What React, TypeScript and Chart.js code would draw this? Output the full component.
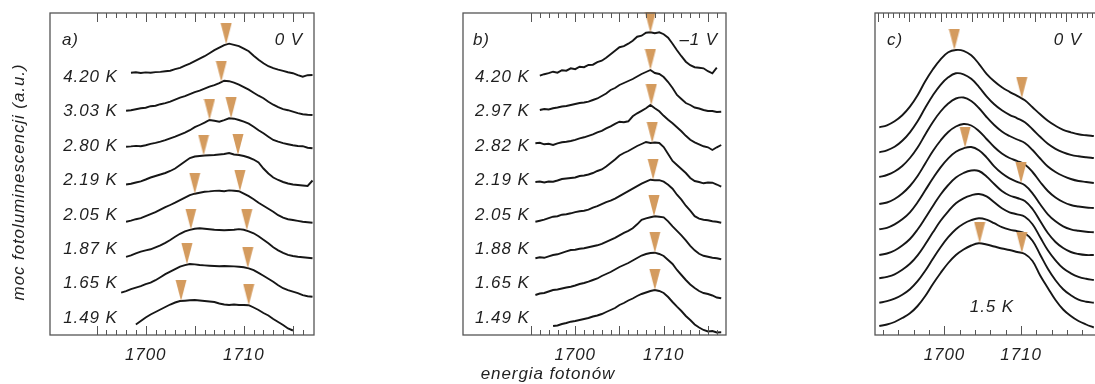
import React, { useEffect, useRef } from "react";
import { Chart, registerables } from "chart.js";

Chart.register(...registerables);

// ---------------- DATA ----------------
// photon energy grids (meV)
const energyA = [1697.5, 1698, 1698.5, 1699, 1699.5, 1700, 1700.5, 1701, 1701.5, 1702, 1702.5, 1703, 1703.5, 1704, 1704.5, 1705, 1705.5, 1706, 1706.5, 1707, 1707.5, 1708, 1708.5, 1709, 1709.5, 1710, 1710.5, 1711, 1711.5, 1712, 1712.5, 1713, 1713.5, 1714, 1714.5, 1715, 1715.5, 1716, 1716.5, 1717];
const energyB = [1695.5, 1696, 1696.5, 1697, 1697.5, 1698, 1698.5, 1699, 1699.5, 1700, 1700.5, 1701, 1701.5, 1702, 1702.5, 1703, 1703.5, 1704, 1704.5, 1705, 1705.5, 1706, 1706.5, 1707, 1707.5, 1708, 1708.5, 1709, 1709.5, 1710, 1710.5, 1711, 1711.5, 1712, 1712.5, 1713, 1713.5, 1714, 1714.5, 1715, 1715.5, 1716, 1716.5];
const energyC = [1691.5, 1692.5, 1693.5, 1694.5, 1695.5, 1696.5, 1697.5, 1698.5, 1699.5, 1700.5, 1701.5, 1702.5, 1703.5, 1704.5, 1705.5, 1706.5, 1707.5, 1708.5, 1709.5, 1710.5, 1711.5, 1712.5, 1713.5, 1714.5, 1715.5, 1716.5, 1717.5, 1718.5, 1719.5];

// panel a) 0 V — temperatures and spectra (a.u., relative to each trace's offset)
const tempsA = ["4.20 K", "3.03 K", "2.80 K", "2.19 K", "2.05 K", "1.87 K", "1.65 K", "1.49 K"];
const offsetsA = [262.3, 224.3, 188.3, 150.5, 113.3, 77.7, 42.3, 10];
const a420 = [null, null, 0, 0.5, -0.3, 0.3, 0, 0.6, 0.8, 1.5, 2, 3.5, 4.8, 7, 9, 11.5, 14, 16.5, 19.5, 22.5, 25, 27.5, 29, 27.8, 26.5, 24, 21.5, 17, 13, 9.5, 6.5, 4.5, 3, 1.8, 0.5, -0.5, -2.5, -4, -2.5, -2.3];
const a303 = [null, 0, 0.5, 1.5, 2.5, 3, 4.5, 5, 6.5, 7.5, 9, 11, 13, 14.5, 16.5, 18.5, 20, 22, 24, 25.5, 27.5, 30, 29.5, 28, 26, 23.5, 21, 18, 15, 12.5, 9, 6, 3.5, 1.5, 0.5, -1, -2.5, -3.5, -4, -4.3];
const a280 = [null, 0, 0.3, 0.8, 0.5, 1.5, 2.8, 3.8, 5, 6.5, 8.4, 10, 12, 14, 16.5, 19.5, 21.7, 24, 26.7, 26, 25, 26.5, 28.4, 28, 26.7, 25, 23, 20, 16.5, 13.4, 10, 6.7, 5, 3.5, 2.5, 1.5, 0.7, 0.5, -1, -1.6];
const a219 = [null, 0, 0.8, 2, 3.2, 5, 7, 8.5, 10, 11.5, 13.5, 16, 19.5, 23, 26.5, 28, 28.5, 29, 29.3, 29.5, 30, 30.5, 31.5, 30, 29.5, 28.5, 27, 25, 22, 16, 11, 7, 4.5, 2.5, 1, 0, -0.5, -1, -1.5, 4];
const a205 = [null, 0, 1, 2.5, 3.5, 5.5, 7.5, 9.5, 12, 14.5, 16.7, 19, 21.5, 24, 26.5, 28, 29, 30, 30.3, 30.8, 31, 30.5, 31.3, 31, 30.5, 28, 25.5, 22.5, 19, 16, 13, 10, 6.5, 4, 2.5, 1.7, 0.8, 0, -0.5, -1];
const a187 = [null, 0.5, 2, 4, 5.6, 7, 8, 10, 12, 14.5, 17.3, 20.5, 23.5, 26, 27.5, 28.5, 29, 28.5, 28, 27.5, 27.3, 27, 27.3, 27.5, 28.2, 27.5, 26, 24, 21, 17.5, 14, 10, 7, 4.5, 2.5, 1.3, 0.5, 0, -0.5, -1];
const a165 = [0, 1.5, 3.5, 5, 6.5, 8.5, 10, 12.5, 15.5, 18.5, 21, 23.5, 26, 27.5, 28.7, 28.3, 27.7, 27.3, 27, 26.7, 26.5, 26.7, 26.5, 26.3, 26, 25.5, 24.4, 22.5, 19.8, 17, 14, 11, 7.5, 4.5, 2.5, 1, -0.5, -2.5, -3.5, -4];
const a149 = [null, null, null, 0.5, 4, 7.5, 10.5, 13, 15.5, 18, 20.5, 22.5, 24, 24.3, 24.7, 25, 24.5, 24, 23.5, 23, 21.5, 20.5, 20, 20.5, 20, 20, 19.8, 17.5, 15, 12, 9.5, 6, 3, 0, -3.5, -5.5, null, null, null, null];
const spectraA = [a420, a303, a280, a219, a205, a187, a165, a149];
const markTraceA = [0, 1, 2, 2, 3, 3, 4, 4, 5, 5, 6, 6, 7, 7];
const markEnergyA = [1708.2, 1707.7, 1706.5, 1708.7, 1705.9, 1709.4, 1705.0, 1709.6, 1704.6, 1710.3, 1704.2, 1710.4, 1703.6, 1710.5];
const markHeightA = [28.5, 29, 26.7, 28.4, 29, 29.5, 28, 30.5, 27.8, 27, 28.5, 24.4, 24.2, 19.8];

// panel b) -1 V
const tempsB = ["4.20 K", "2.97 K", "2.82 K", "2.19 K", "2.05 K", "1.88 K", "1.65 K", "1.49 K"];
const offsetsB = [259.3, 225, 191.7, 153, 113.3, 76.7, 40, 9];
const b420 = [null, 0, 1.5, 2.5, 4, 3, 5.5, 5, 7.4, 6.5, 9, 8.5, 10.7, 11, 13.5, 15, 18, 21.5, 25, 28.5, 29.5, 32, 35, 39, 40, 43, 43.5, 42.5, 43.4, 41.5, 38, 32, 25.5, 19.5, 14, 10.5, 8.5, 8, 7.4, 4.5, 2.4, 8, null];
const b297 = [null, 0, 1, 0.5, 1.7, 2.5, 3.5, 4, 5, 6, 7, 7.5, 8.3, 10, 11.5, 14, 16.5, 20, 22, 25, 27, 29, 31, 33.5, 36, 38, 40, 37, 36, 33, 28, 22, 15, 11, 7, 5, 2.5, 1.5, 0, -1, -1, -2, -1.7];
const b282 = [0, 0.5, -1, -0.5, -1.7, 0, 1, 1.5, 2.3, 3.5, 5, 6, 7.5, 9, 11, 12.5, 15, 17, 19.5, 21.6, 21, 22, 27, 30, 32.5, 35, 38.3, 35, 32, 27.5, 23.5, 20, 16, 12, 7.5, 3.5, 1, -1, -3, -4, -6.7, -4, -1.7];
const b219 = [0, 0.5, -0.5, 0.5, 0.3, 1.5, 3, 3.5, 4, 4.5, 6, 6.5, 7.5, 9, 11, 12.5, 15.5, 19, 22.5, 26.5, 29, 31, 33.5, 36, 38, 40, 39, 39.5, 39, 35, 28, 21, 17, 13, 9, 4, 1, 0, -1.3, -0.5, -0.7, -2.5, -4.7];
const b205 = [0, 1, 2, 3.5, 5, 5.5, 7, 7.5, 8.4, 9.5, 10.5, 11, 12, 14, 15.5, 17.5, 19.5, 21, 23, 25.5, 28, 30.5, 33, 35.5, 38, 40, 42, 41.5, 41.5, 40, 37, 33, 27, 22, 16, 11, 5.5, 3, 2, 1.5, 0.5, 0, -1];
const b188 = [0, 1, 0.5, 2, 3.3, 4, 5.5, 7, 8.3, 8.5, 9.5, 10, 11, 12, 13, 14.5, 16.5, 18.5, 20.5, 23, 25.5, 27.5, 30, 34, 38.5, 40, 41, 42, 41.6, 41, 37, 32, 27.5, 23, 18, 12.5, 8, 4.5, 2.5, 1.5, 0.5, 0, -1];
const b165 = [0, 1.5, 2, 3.5, 5, 5.5, 6.5, 7.5, 8.3, 9.5, 11, 12, 13.3, 15, 16.5, 19, 21, 23, 25.5, 28, 30, 32, 34.5, 37, 39.5, 41, 42, 42.3, 41, 39, 35, 31, 25, 20, 15, 10.5, 7, 4, 2, 1, -0.5, -2.5, -3.3];
const b149 = [null, null, null, null, 0, 0.5, 2, 3, 4.3, 5, 6, 7, 8, 9.5, 10.5, 12, 14, 16, 18, 21, 23, 25.5, 27.5, 30, 32, 33.5, 35, 36, 35, 33, 29, 24, 19.3, 15, 10, 6, 1.5, -1.5, -4, -5.5, -5, -6.5, -6.3];
const spectraB = [b420, b297, b282, b219, b205, b188, b165, b149];
const markTraceB = [0, 1, 2, 3, 4, 5, 6, 7];
const markEnergyB = [1708.5, 1708.5, 1708.6, 1708.7, 1708.8, 1708.9, 1709.0, 1709.0];
const markHeightB = [43, 40, 38, 39, 42, 42, 42.3, 36];

// panel c) 0 V, bottom trace 1.5 K
const offsetsC = [207.7, 182.7, 158, 131, 105.7, 80, 56.7, 32.3, 9];
const c1 = [0, 2, 6, 12, 20.6, 32, 46, 58, 68, 75, 77.3, 76.5, 72, 63.5, 53.5, 46, 40, 35.5, 31.5, 27, 20, 13, 6.5, 1.5, -2.5, -5, -7, -8, -8.7];
const c2 = [0, 2, 5.5, 11.5, 20, 31, 44.5, 57, 67.5, 75, 79, 78, 73.5, 65.5, 56, 48, 42, 37.5, 34, 30, 23, 15.5, 8.5, 3.5, 0, -2.5, -4, -5, -5.7];
const c3 = [0, 2, 5.5, 11, 19, 29.5, 42.5, 55, 65.5, 73.5, 78.5, 79.5, 76, 69, 60, 52, 45.5, 41, 37.5, 34, 27, 18.5, 10.5, 5, 1, -2, -4, -5, -6];
const c4 = [0, 1.5, 5, 10.5, 18, 28, 40.5, 53, 63.5, 72, 77.5, 80, 78.5, 73, 65, 57, 50.5, 46, 43, 39.5, 32, 22, 13, 6.5, 2, -1, -2.5, -3.5, -4];
const c5 = [0, 1.5, 5, 10, 17, 27, 39, 51, 62, 71, 77.5, 81, 82.3, 79, 72, 63, 56, 51, 47.5, 44, 36, 25, 15, 8, 3, 0, -1.5, -2.5, -3];
const c6 = [0, 1.5, 4.5, 9.5, 16, 25.5, 37, 49, 60.5, 70, 77.5, 82, 84.5, 84, 78.5, 71, 64, 59.5, 57, 54, 46, 34, 22, 13, 7, 3, 1, 0, 0];
const c7 = [0, 1.5, 4, 8.5, 14.5, 23, 34, 46, 57.5, 67, 75, 80, 83, 84.3, 82, 76, 70, 66, 64, 61.5, 54, 41, 28, 18, 10, 5, 1.5, -0.5, -1.7];
const c8 = [0, 1.5, 4, 8, 13.5, 21.5, 32, 44, 55.5, 65.5, 73.5, 79, 82.5, 84.4, 83, 79.5, 75.5, 73, 71.5, 69.5, 62, 48, 34, 22.5, 13.5, 7.5, 3, 1, 0];
const c9 = [0, 1.5, 4, 8, 12.7, 20, 30, 42, 53, 63, 71, 76.5, 80.5, 82.7, 81.5, 79.5, 77.5, 76, 74, 72, 65, 50.5, 38, 26, 16.5, 10, 5, 1.5, -1.5];
const spectraC = [c1, c2, c3, c4, c5, c6, c7, c8, c9];
const markTraceC = [0, 0, 4, 4, 8, 8];
const markEnergyC = [1701.3, 1710.1, 1702.7, 1710.0, 1704.6, 1710.1];
const markHeightC = [77.3, 29, 81.5, 46, 82.7, 73];

// tick labels
const tickValues = [1700, 1710];
const tickLabels = ["1700", "1710"];

const yTitle = "moc fotoluminescencji (a.u.)";
const xTitle = "energia fotonów";

// ---------------- RENDERING ----------------
const FONT = 'italic 17px "Liberation Sans", Arial, Helvetica, sans-serif';
const TEXT = "#1f1f1f";
const FRAME = "#555555";

function markerImage() {
  const c = document.createElement("canvas");
  c.width = 12;
  c.height = 42;
  const g = c.getContext("2d")!;
  g.fillStyle = "#d49b5e";
  g.beginPath();
  g.moveTo(0.5, 0);
  g.lineTo(11.5, 0);
  g.lineTo(6, 21);
  g.closePath();
  g.fill();
  return c;
}

type PanelCfg = {
  key: string;
  left: number;
  width: number;
  pad: { left: number; right: number; top: number; bottom: number };
  xMin: number;
  xMax: number;
  grid: number[];
  spectra: (number | null)[][];
  offsets: number[];
  markTrace: number[];
  markEnergy: number[];
  markHeight: number[];
  tension: number;
  temps?: string[];
  tempE?: number;
  tag: string;
  tagDx: number;
  volt: string;
  voltDx: number;
  ticks: "fine" | "coarse";
  extraText?: (ctx: CanvasRenderingContext2D, chart: any) => void;
};

function setText(ctx: CanvasRenderingContext2D) {
  ctx.font = FONT;
  ctx.fillStyle = TEXT;
  try {
    (ctx as any).letterSpacing = "0.9px";
  } catch (e) {}
}

function makeDecor(cfg: PanelCfg) {
  return {
    id: "decor_" + cfg.key,
    afterDraw(chart: any) {
      const ctx: CanvasRenderingContext2D = chart.ctx;
      const a = chart.chartArea;
      const xs = chart.scales.x;
      ctx.save();
      ctx.strokeStyle = FRAME;
      ctx.lineWidth = 1.3;
      ctx.strokeRect(a.left, a.top, a.right - a.left, a.bottom - a.top);

      ctx.lineWidth = 1;
      const tick = (v: number, len: number, top: boolean) => {
        const x = Math.round(xs.getPixelForValue(v)) + 0.5;
        if (x < a.left + 1 || x > a.right - 1) return;
        ctx.beginPath();
        if (top) {
          ctx.moveTo(x, a.top);
          ctx.lineTo(x, a.top + len);
        } else {
          ctx.moveTo(x, a.bottom);
          ctx.lineTo(x, a.bottom - len);
        }
        ctx.stroke();
      };
      if (cfg.ticks === "fine") {
        for (let v = 1695; v <= 1716; v++) {
          const major = v % 5 === 0;
          tick(v, major ? 9 : 5, false);
          tick(v, major ? 9 : 5, true);
        }
      } else {
        for (let v = 1692; v <= 1720; v += 2) tick(v, v % 10 === 0 ? 9 : 5, false);
        for (let i = 0; i < 45; i++) tick(1691.3 + i * 0.683, i % 6 === 0 ? 9 : 5, true);
      }

      setText(ctx);
      ctx.textBaseline = "alphabetic";
      ctx.textAlign = "center";
      tickValues.forEach((v, i) => {
        ctx.fillText(tickLabels[i], xs.getPixelForValue(v), a.bottom + 25);
      });
      ctx.textAlign = "left";
      ctx.fillText(cfg.tag, a.left + cfg.tagDx, a.top + 32);
      ctx.textAlign = "right";
      ctx.fillText(cfg.volt, a.right - cfg.voltDx, a.top + 32);
      if (cfg.temps && cfg.tempE !== undefined) {
        const xr = xs.getPixelForValue(cfg.tempE);
        cfg.temps.forEach((t, i) => {
          ctx.fillText(t, xr, a.top + 69 + i * 34.4);
        });
      }
      if (cfg.extraText) cfg.extraText(ctx, chart);
      ctx.restore();
    },
  };
}

function Panel({ cfg }: { cfg: PanelCfg }) {
  const ref = useRef<HTMLCanvasElement>(null);
  useEffect(() => {
    const img = markerImage();
    const curves = cfg.spectra.map((s, k) => ({
      data: cfg.grid
        .map((e, i) => (s[i] === null || s[i] === undefined ? null : { x: e, y: cfg.offsets[k] + (s[i] as number) }))
        .filter((p) => p !== null),
      borderColor: "#161616",
      borderWidth: 1.9,
      pointRadius: 0,
      tension: cfg.tension,
      fill: false,
      order: 1,
    }));
    const markers = {
      data: cfg.markEnergy.map((e, i) => ({ x: e, y: cfg.offsets[cfg.markTrace[i]] + cfg.markHeight[i] })),
      showLine: false,
      pointStyle: img,
      pointRadius: 6,
      clip: false,
      order: -1,
    };
    const chart = new Chart(ref.current!, {
      type: "line",
      data: { datasets: [markers as any, ...curves] },
      options: {
        responsive: false,
        animation: false,
        devicePixelRatio: 1,
        events: [],
        layout: { padding: cfg.pad },
        scales: {
          x: { type: "linear", min: cfg.xMin, max: cfg.xMax, display: false },
          y: { type: "linear", min: 0, max: 322, display: false },
        },
        plugins: { legend: { display: false }, tooltip: { enabled: false } },
      },
      plugins: [makeDecor(cfg)],
    });
    return () => chart.destroy();
  }, []);
  return (
    <canvas
      ref={ref}
      width={cfg.width}
      height={384}
      style={{ position: "absolute", left: cfg.left, top: 0, width: cfg.width, height: 384 }}
    />
  );
}

const panelA: PanelCfg = {
  key: "a",
  left: 0,
  width: 330,
  pad: { left: 50, right: 16, top: 13, bottom: 49 },
  xMin: 1690.25,
  xMax: 1717.15,
  grid: energyA,
  spectra: spectraA,
  offsets: offsetsA,
  markTrace: markTraceA,
  markEnergy: markEnergyA,
  markHeight: markHeightA,
  tension: 0,
  temps: tempsA,
  tempE: 1697.15,
  tag: "a)",
  tagDx: 12,
  volt: "0 V",
  voltDx: 11,
  ticks: "fine",
  extraText: (ctx) => {
    ctx.save();
    ctx.translate(24, 182);
    ctx.rotate(-Math.PI / 2);
    ctx.textAlign = "center";
    ctx.fillText(yTitle, 0, 0);
    ctx.restore();
  },
};

const panelB: PanelCfg = {
  key: "b",
  left: 440,
  width: 300,
  pad: { left: 23, right: 14, top: 13, bottom: 49 },
  xMin: 1687.32,
  xMax: 1717.04,
  grid: energyB,
  spectra: spectraB,
  offsets: offsetsB,
  markTrace: markTraceB,
  markEnergy: markEnergyB,
  markHeight: markHeightB,
  tension: 0,
  temps: tempsB,
  tempE: 1694.85,
  tag: "b)",
  tagDx: 10,
  volt: "–1 V",
  voltDx: 8,
  ticks: "fine",
  extraText: (ctx) => {
    ctx.textAlign = "center";
    ctx.fillText(xTitle, 108, 379);
  },
};

const panelC: PanelCfg = {
  key: "c",
  left: 840,
  width: 270,
  pad: { left: 35, right: 5, top: 13, bottom: 49 },
  xMin: 1690.94,
  xMax: 1720.7,
  grid: energyC,
  spectra: spectraC,
  offsets: offsetsC,
  markTrace: markTraceC,
  markEnergy: markEnergyC,
  markHeight: markHeightC,
  tension: 0.4,
  tag: "c)",
  tagDx: 12,
  volt: "0 V",
  voltDx: 21,
  ticks: "coarse",
  extraText: (ctx, chart) => {
    ctx.textAlign = "center";
    ctx.fillText("1.5 K", chart.scales.x.getPixelForValue(1706.2), chart.chartArea.top + 299);
  },
};

export default function App() {
  return (
    <div
      style={{
        position: "absolute",
        left: 0,
        top: 0,
        width: 1095,
        height: 384,
        overflow: "hidden",
        background: "#ffffff",
      }}
    >
      <Panel cfg={panelA} />
      <Panel cfg={panelB} />
      <Panel cfg={panelC} />
    </div>
  );
}
